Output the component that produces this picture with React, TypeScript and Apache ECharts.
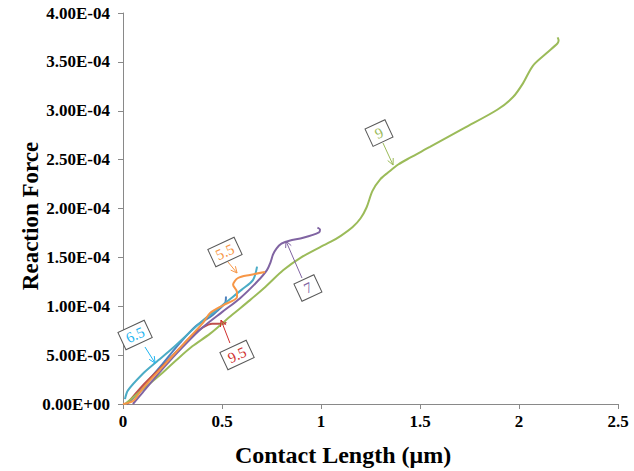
import React, { useEffect, useRef } from "react";
import * as echarts from "echarts";

// x: contact length (µm); y: reaction force in units of 1e-4
const serBlue: [number, number][] = [[0.02,0],[0.06,0.08],[0.12,0.22],[0.2,0.41],[0.29,0.63],[0.37,0.8],[0.44,0.89],[0.48,0.96],[0.515,1.03],[0.52,1.1]];
const serRed: [number, number][] = [[0.02,0],[0.1,0.19],[0.2,0.39],[0.3,0.6],[0.36,0.72],[0.4,0.78],[0.45,0.82],[0.51,0.82],[0.52,0.84]];
const serGreen: [number, number][] = [[0.01,0],[0.1,0.15],[0.2,0.32],[0.27,0.45],[0.35,0.59],[0.44,0.72],[0.55,0.91],[0.64,1.06],[0.72,1.2],[0.81,1.37],[0.9,1.5],[1.0,1.61],[1.05,1.66],[1.1,1.72],[1.16,1.81],[1.2,1.9],[1.23,2.01],[1.26,2.18],[1.3,2.3],[1.34,2.37],[1.39,2.45],[1.45,2.52],[1.55,2.63],[1.72,2.82],[1.89,3.01],[1.97,3.14],[2.02,3.28],[2.07,3.46],[2.14,3.59],[2.195,3.69],[2.2,3.72],[2.195,3.75]];
const serPurple: [number, number][] = [[0.05,0],[0.1,0.12],[0.2,0.36],[0.3,0.58],[0.4,0.78],[0.5,0.94],[0.59,1.08],[0.677,1.25],[0.727,1.37],[0.745,1.45],[0.758,1.53],[0.775,1.59],[0.8,1.64],[0.84,1.67],[0.91,1.7],[0.99,1.755],[0.995,1.785],[0.982,1.805]];
const serAqua: [number, number][] = [[0.01,0.05],[0.025,0.14],[0.1,0.31],[0.162,0.42],[0.25,0.57],[0.33,0.72],[0.4,0.85],[0.46,0.94],[0.52,1.04],[0.6,1.17],[0.657,1.27],[0.677,1.405]];
const serOrange: [number, number][] = [[0,0],[0.05,0.03],[0.1,0.16],[0.2,0.38],[0.29,0.58],[0.354,0.72],[0.404,0.83],[0.44,0.93],[0.505,1.01],[0.576,1.095],[0.575,1.15],[0.556,1.22],[0.581,1.289],[0.641,1.32],[0.717,1.35]];

const seriesColors = ["#4F81BD", "#C0504D", "#9BBB59", "#8064A2", "#4BACC6", "#F79646"];

// annotations
const annLabels = ["9", "5.5", "6.5", "9.5", "7"];
const annColors = ["#9BBB59", "#F79646", "#1EB4F0", "#D0302F", "#8064A2"];
const annBox: [number, number][] = [[1.293, 2.772], [0.515, 1.555], [0.061, 0.706], [0.576, 0.501], [0.934, 1.187]];
const annFrom: [number, number][] = [[1.313, 2.67], [0.53, 1.453], [0.111, 0.583], [0.54, 0.624], [0.904, 1.289]];
const annTip: [number, number][] = [[1.364, 2.445], [0.576, 1.34], [0.162, 0.419], [0.495, 0.859], [0.823, 1.667]];

const xTicks = { min: 0, max: 2.5, interval: 0.5 };
const yTicks = { min: 0, max: 4, interval: 0.5 };
const SCALE = 1e-4;

function fmtY(v: number): string {
  if (Math.abs(v) < 1e-12) return "0.00E+00";
  const [m, e] = v.toExponential(2).split("e");
  const n = parseInt(e, 10);
  return m + "E" + (n < 0 ? "-" : "+") + String(Math.abs(n)).padStart(2, "0");
}

export default function App() {
  const ref = useRef<HTMLDivElement>(null);
  useEffect(() => {
    if (!ref.current) return;
    const chart = echarts.init(ref.current, undefined, { renderer: "svg" });
    const all = [serBlue, serRed, serGreen, serPurple, serAqua, serOrange];
    const axisColor = "#898989";
    chart.setOption({
      animation: false,
      grid: { left: 123, right: 16, top: 13, bottom: 67, containLabel: false },
      xAxis: {
        type: "value",
        min: xTicks.min,
        max: xTicks.max,
        interval: xTicks.interval,
        axisLine: { lineStyle: { color: axisColor } },
        axisTick: { show: true, length: 5, lineStyle: { color: axisColor } },
        splitLine: { show: false },
        axisLabel: { color: "#000", fontFamily: "Liberation Serif", fontWeight: "bold", fontSize: 17, margin: 9 },
      },
      yAxis: {
        type: "value",
        min: yTicks.min * SCALE,
        max: yTicks.max * SCALE,
        interval: yTicks.interval * SCALE,
        axisLine: { show: true, lineStyle: { color: axisColor } },
        axisTick: { show: true, length: 5, lineStyle: { color: axisColor } },
        splitLine: { show: false },
        axisLabel: { color: "#000", fontFamily: "Liberation Serif", fontWeight: "bold", fontSize: 17, margin: 13, formatter: fmtY },
      },
      series: all.map((d, i) => ({
        type: "line",
        data: d.map(([x, y]) => [x, y * SCALE]),
        smooth: 0.3,
        showSymbol: false,
        symbol: "none",
        lineStyle: { color: seriesColors[i], width: 2 },
        z: 2 + i,
      })),
    });

    const toPx = (p: [number, number]) => chart.convertToPixel({ gridIndex: 0 }, [p[0], p[1] * SCALE]) as number[];
    const graphics: any[] = [];
    annLabels.forEach((lab, i) => {
      const c = toPx(annBox[i]);
      const f = toPx(annFrom[i]);
      const t = toPx(annTip[i]);
      const col = annColors[i];
      graphics.push({
        type: "line",
        shape: { x1: f[0], y1: f[1], x2: t[0], y2: t[1] },
        style: { stroke: col, lineWidth: 1 },
        z: 20,
      });
      const ang = Math.atan2(f[1] - t[1], f[0] - t[0]);
      const L = 7, spread = 0.45;
      graphics.push({
        type: "polyline",
        shape: {
          points: [
            [t[0] + L * Math.cos(ang + spread), t[1] + L * Math.sin(ang + spread)],
            [t[0], t[1]],
            [t[0] + L * Math.cos(ang - spread), t[1] + L * Math.sin(ang - spread)],
          ],
        },
        style: { stroke: col, lineWidth: 1, fill: "none" },
        z: 20,
      });
      const w = lab.length > 1 ? 29 : 22;
      const h = 19;
      graphics.push({
        type: "group",
        x: c[0],
        y: c[1],
        rotation: (25 * Math.PI) / 180,
        z: 21,
        children: [
          {
            type: "rect",
            shape: { x: -w / 2, y: -h / 2, width: w, height: h },
            style: { fill: "#fff", stroke: "#595959", lineWidth: 1 },
            z: 21,
          },
          {
            type: "text",
            x: 0,
            y: 0,
            style: { text: lab, fill: col, font: '15px "Liberation Serif"', align: "center", verticalAlign: "middle" },
            z: 22,
          },
        ],
      });
    });
    graphics.push({
      type: "text",
      x: 30,
      y: 216,
      rotation: Math.PI / 2,
      style: { text: "Reaction Force", fill: "#000", font: 'bold 23px "Liberation Serif"', align: "center", verticalAlign: "middle" },
      z: 30,
    });
    graphics.push({
      type: "text",
      x: 343,
      y: 455,
      style: { text: "Contact Length (μm)", fill: "#000", font: 'bold 24px "Liberation Serif"', align: "center", verticalAlign: "middle" },
      z: 30,
    });
    chart.setOption({ graphic: graphics });
    return () => chart.dispose();
  }, []);
  return <div ref={ref} style={{ width: 634, height: 471, position: "absolute", left: 0, top: 0 }} />;
}
